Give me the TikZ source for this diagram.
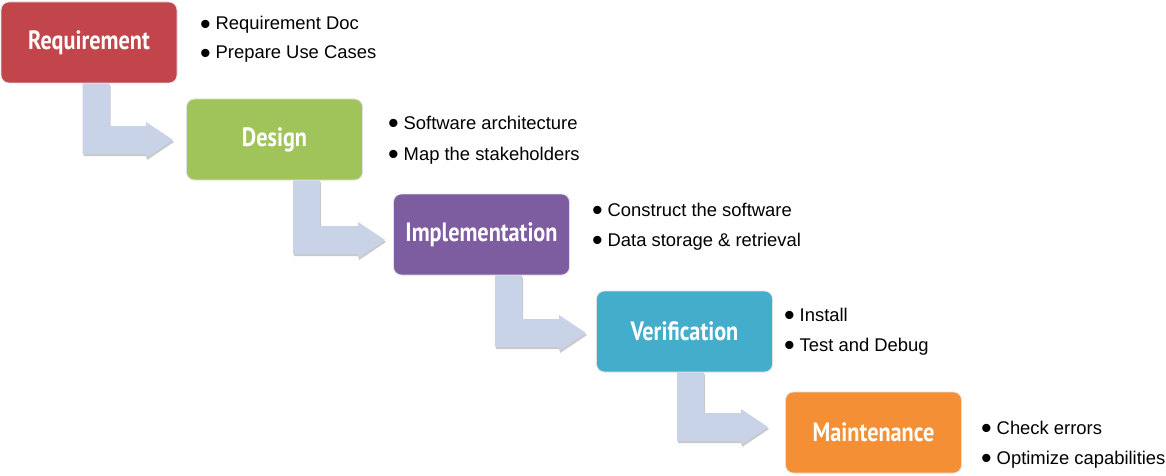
\documentclass[tikz,border=0pt]{standalone}
\usepackage{fontspec}
\usepackage{graphicx}
\setmainfont{Liberation Sans}
\newfontfamily\stagefont[FakeStretch=0.84]{PT Sans}
\usetikzlibrary{calc,shadows}
\definecolor{reqred}{HTML}{C1454B}
\definecolor{desgreen}{HTML}{A0C35A}
\definecolor{imppurple}{HTML}{7E5CA0}
\definecolor{veraqua}{HTML}{44ADCB}
\definecolor{mainorange}{HTML}{F58F36}
\definecolor{arrowfill}{HTML}{C9D3E8}
\newcommand\bdot{\makebox[14.5pt][l]{\hspace{-1pt}\raisebox{-4.4pt}[0pt][0pt]{\scalebox{1.65}{•}}}}
\newcommand\elbowpath[5]{let \p1=($(#1.south west)+(#3,0)$), \p2=($(#2.west)+(-#4,#5)$) in
  (\x1,\y1) -- (\x1+27pt,\y1) -- (\x1+27pt,\y2+14pt) -- (\x2-27pt,\y2+14pt)
  -- (\x2-27pt,\y2+18pt) -- (\x2,\y2) -- (\x2-27pt,\y2-18pt) -- (\x2-27pt,\y2-14pt)
  -- (\x1,\y2-14pt) -- cycle}
\tikzset{
  stage/.style={rounded corners=8pt, minimum width=176pt, minimum height=81pt,
    draw=black!12, line width=0.8pt, text=white, inner sep=0pt,
    font=\stagefont\bfseries\fontsize{26.5}{26.5}\selectfont},
  note/.style={anchor=base west, inner sep=0pt, font=\fontsize{18.4}{18.4}\selectfont},
  elbow/.style={fill=arrowfill, drop shadow={shadow xshift=1pt, shadow yshift=-2pt, opacity=0.35, fill=black!60}}
}
\begin{document}
\begin{tikzpicture}[x=1pt,y=-1pt]
\useasboundingbox (0,0) rectangle (1166,476);
% stages
\node[stage, fill=reqred]     (req) at (89,42.5)   {Requirement};
\node[stage, fill=desgreen]   (des) at (274.5,139.5) {Design};
\node[stage, fill=imppurple]  (imp) at (481.5,234.5) {Implementation};
\node[stage, fill=veraqua]    (ver) at (684.5,331.5) {Verification};
\node[stage, fill=mainorange] (mai) at (873.5,432.5) {Maintenance};
% elbow arrows
\fill[elbow] \elbowpath{req}{des}{82}{13}{0.5};
\fill[elbow] \elbowpath{des}{imp}{107}{8}{5.5};
\fill[elbow] \elbowpath{imp}{ver}{102}{10}{1.5};
\fill[elbow] \elbowpath{ver}{mai}{81}{17}{-5.5};
% notes
\node[note] (r1) at (201,30) {\bdot Requirement Doc};
\node[note] (r2) at (201,59) {\bdot Prepare Use Cases};
\node[note] (d1) at (389,129) {\bdot Software architecture};
\node[note] (d2) at (389,160) {\bdot Map the stakeholders};
\node[note] (i1) at (593,216) {\bdot Construct the software};
\node[note] (i2) at (593,246) {\bdot Data storage \& retrieval};
\node[note] (v1) at (785,321) {\bdot Install};
\node[note] (v2) at (785,351) {\bdot Test and Debug};
\node[note] (m1) at (982,434) {\bdot Check errors};
\node[note] (m2) at (982,464) {\bdot Optimize capabilities};
\end{tikzpicture}
\end{document}
